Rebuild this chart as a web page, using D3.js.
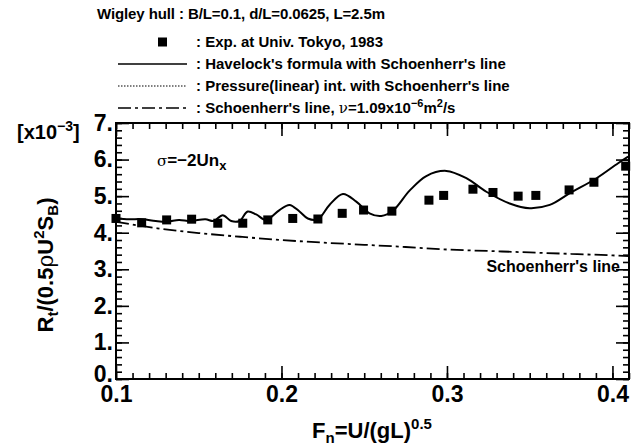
<!DOCTYPE html>
<html>
<head>
<meta charset="utf-8">
<script src="https://cdn.jsdelivr.net/npm/d3@7"></script>
<style>
  html, body { margin: 0; padding: 0; background: #fff; }
  svg { display: block; font-family: "Liberation Sans", Arial, sans-serif; }
  text { fill: #000; }
</style>
</head>
<body>
<svg id="chart" width="641" height="447"></svg>
<script>
// Measured total resistance, Wigley hull (Univ. Tokyo, 1983)
const expFn = [0.100, 0.1155, 0.1306, 0.1457, 0.1615, 0.1766, 0.1917, 0.2068, 0.222, 0.2367, 0.2496,
               0.2667, 0.2891, 0.298, 0.3157, 0.3278, 0.343, 0.3537, 0.3738, 0.3888, 0.408];
const expCt = [4.39, 4.27, 4.35, 4.37, 4.26, 4.26, 4.35, 4.39, 4.375, 4.53, 4.62,
               4.59, 4.89, 5.02, 5.19, 5.10, 5.00, 5.02, 5.17, 5.38, 5.82];

// Havelock wave resistance + Schoenherr friction
const havFn = [0.100, 0.108, 0.116, 0.124, 0.131, 0.138, 0.145, 0.154, 0.159, 0.1645, 0.1696, 0.1746,
               0.1796, 0.1847, 0.1907, 0.1988, 0.2048, 0.2109, 0.2159, 0.222, 0.229, 0.2371, 0.2452,
               0.2532, 0.2603, 0.2673, 0.2774, 0.2875, 0.2996, 0.3117, 0.3238, 0.3379, 0.350, 0.3621,
               0.3742, 0.3904, 0.4034, 0.4095];
const havCt = [4.39, 4.37, 4.37, 4.32, 4.30, 4.35, 4.32, 4.37, 4.32, 4.48, 4.32, 4.32,
               4.58, 4.50, 4.35, 4.62, 4.76, 4.58, 4.39, 4.37, 4.76, 5.06, 4.85,
               4.53, 4.46, 4.60, 5.15, 5.55, 5.69, 5.49, 5.12, 4.80, 4.67, 4.76,
               5.08, 5.49, 5.90, 6.08];

// Schoenherr friction line, nu = 1.09e-6 m^2/s
const schFn = [0.100, 0.125, 0.150, 0.175, 0.200, 0.225, 0.250, 0.275, 0.300, 0.325, 0.350, 0.375, 0.400, 0.410];
const schCt = [4.30, 4.12, 3.99, 3.89, 3.80, 3.73, 3.67, 3.61, 3.54, 3.50, 3.46, 3.42, 3.38, 3.36];

const xMajorTicks = [0.1, 0.2, 0.3, 0.4];
const yMajorTicks = [0, 1, 2, 3, 4, 5, 6, 7];

const svg = d3.select("#chart");
const frame = { left: 116, right: 629, top: 123, bottom: 379 };

const x = d3.scaleLinear().domain([0.1, 0.41]).range([frame.left, frame.right]);
const y = d3.scaleLinear().domain([0, 7]).range([frame.bottom, frame.top]);

const xMinor = d3.range(0.1, 0.4101, 0.01).map(v => +v.toFixed(2));
const yMinor = d3.range(0, 7.001, 0.2).map(v => +v.toFixed(1));

function styleAxis(g) {
  g.select(".domain").remove();
  g.selectAll(".tick line").attr("stroke", "#000").attr("stroke-width", 1.6);
}
function styleLabels(g) {
  g.selectAll("text").attr("font-size", 23).attr("font-weight", "bold")
    .attr("font-family", "'Liberation Sans', Arial, sans-serif").attr("fill", "#000");
}

// bottom axis
svg.append("g").attr("transform", `translate(0,${frame.bottom})`)
  .call(d3.axisBottom(x).tickValues(xMinor).tickSize(-6).tickFormat(""))
  .call(styleAxis);
svg.append("g").attr("transform", `translate(0,${frame.bottom})`)
  .call(d3.axisBottom(x).tickValues(xMajorTicks).tickSize(-13).tickPadding(7).tickFormat(d3.format(".1f")))
  .call(styleAxis).call(styleLabels);
// top axis
svg.append("g").attr("transform", `translate(0,${frame.top})`)
  .call(d3.axisTop(x).tickValues(xMinor).tickSize(-6).tickFormat(""))
  .call(styleAxis);
svg.append("g").attr("transform", `translate(0,${frame.top})`)
  .call(d3.axisTop(x).tickValues(xMajorTicks).tickSize(-13).tickFormat(""))
  .call(styleAxis);
// left axis
svg.append("g").attr("transform", `translate(${frame.left},0)`)
  .call(d3.axisLeft(y).tickValues(yMinor).tickSize(-6).tickFormat(""))
  .call(styleAxis);
svg.append("g").attr("transform", `translate(${frame.left},0)`)
  .call(d3.axisLeft(y).tickValues(yMajorTicks).tickSize(-13).tickPadding(3).tickFormat(d => d + "."))
  .call(styleAxis).call(styleLabels)
  .call(g => g.selectAll("text").attr("dy", d => d === 0 ? "0.1em" : "0.32em"));
// right axis
svg.append("g").attr("transform", `translate(${frame.right},0)`)
  .call(d3.axisRight(y).tickValues(yMinor).tickSize(-6).tickFormat(""))
  .call(styleAxis);
svg.append("g").attr("transform", `translate(${frame.right},0)`)
  .call(d3.axisRight(y).tickValues(yMajorTicks).tickSize(-13).tickFormat(""))
  .call(styleAxis);

// frame
svg.append("rect").attr("x", frame.left).attr("y", frame.top)
  .attr("width", frame.right - frame.left).attr("height", frame.bottom - frame.top)
  .attr("fill", "none").attr("stroke", "#000").attr("stroke-width", 2);

const plot = svg.append("g");

// Schoenherr friction line (dash-dot)
const schLine = d3.line().x(d => x(d[0])).y(d => y(d[1])).curve(d3.curveMonotoneX);
plot.append("path").datum(schFn.map((f, i) => [f, schCt[i]]))
  .attr("d", schLine).attr("fill", "none").attr("stroke", "#000").attr("stroke-width", 1.8)
  .attr("stroke-dasharray", "13,4,3,4");

// Havelock curve (solid)
const havLine = d3.line().x(d => x(d[0])).y(d => y(d[1])).curve(d3.curveCatmullRom.alpha(0.5));
plot.append("path").datum(havFn.map((f, i) => [f, havCt[i]]))
  .attr("d", havLine).attr("fill", "none").attr("stroke", "#000").attr("stroke-width", 2);

// experimental points
const sq = 9;
plot.selectAll("rect.exp").data(expFn.map((f, i) => [f, expCt[i]])).join("rect")
  .attr("class", "exp")
  .attr("x", d => x(d[0]) - sq / 2).attr("y", d => y(d[1]) - sq / 2)
  .attr("width", sq).attr("height", sq).attr("fill", "#000");

// in-plot labels
svg.append("text").attr("x", 620).attr("y", 272).attr("text-anchor", "end")
  .attr("font-size", 16).attr("font-weight", "bold").text("Schoenherr's line");

const sig = svg.append("text").attr("x", 157).attr("y", 166).attr("font-size", 17).attr("font-weight", "bold");
sig.append("tspan").attr("font-weight", "normal").attr("font-family", "'DejaVu Serif', serif").attr("font-size", 15).text("σ");
sig.append("tspan").text("=\u22122Un");
sig.append("tspan").attr("font-size", 13).attr("dy", 4).text("x");

// title and legend
svg.append("text").attr("x", 97).attr("y", 19).attr("font-size", 15).attr("font-weight", "bold")
  .attr("textLength", 288).attr("lengthAdjust", "spacing")
  .text("Wigley hull : B/L=0.1, d/L=0.0625, L=2.5m");

const legendRows = [
  { label: ": Exp. at Univ. Tokyo, 1983", kind: "square" },
  { label: ": Havelock's formula with Schoenherr's line", kind: "solid" },
  { label: ": Pressure(linear) int. with Schoenherr's line", kind: "dotted" },
  { label: ": Schoenherr's line, ", kind: "dashdot" }
];
const legY = [47, 69, 91, 113];
const lx0 = 118, lx1 = 187, ltx = 196;
legendRows.forEach((r, i) => {
  const cy = legY[i] - 5;
  if (r.kind === "square") {
    svg.append("rect").attr("x", (lx0 + lx1) / 2 + 10 - sq / 2).attr("y", cy - sq / 2)
      .attr("width", sq).attr("height", sq).attr("fill", "#000");
  } else {
    const ln = svg.append("line").attr("x1", lx0).attr("x2", lx1).attr("y1", cy).attr("y2", cy)
      .attr("stroke", "#000");
    if (r.kind === "solid") ln.attr("stroke-width", 1.6);
    if (r.kind === "dotted") ln.attr("stroke-width", 1.2).attr("stroke-dasharray", "1.5,1.5");
    if (r.kind === "dashdot") ln.attr("stroke-width", 1.6).attr("stroke-dasharray", "13,4,3,4");
  }
  const t = svg.append("text").attr("x", ltx).attr("y", legY[i]).attr("font-size", 15).attr("font-weight", "bold");
  t.append("tspan").text(r.label);
  if (r.kind === "dashdot") {
    t.append("tspan").attr("font-weight", "normal").attr("font-family", "'DejaVu Serif', serif").text("ν");
    t.append("tspan").text("=1.09x10");
    t.append("tspan").attr("font-size", 11).attr("dy", -6).text("\u22126");
    t.append("tspan").attr("dy", 6).text("m");
    t.append("tspan").attr("font-size", 11).attr("dy", -6).text("2");
    t.append("tspan").attr("dy", 6).text("/s");
  }
});

// y-axis multiplier
const mult = svg.append("text").attr("x", 17).attr("y", 139).attr("font-size", 20).attr("font-weight", "bold");
mult.append("tspan").text("[x10");
mult.append("tspan").attr("font-size", 14).attr("dy", -8).text("\u22123");
mult.append("tspan").attr("dy", 8).text("]");

// x-axis title
const xt = svg.append("text").attr("x", 372).attr("y", 438).attr("text-anchor", "middle")
  .attr("font-size", 22).attr("font-weight", "bold");
xt.append("tspan").text("F");
xt.append("tspan").attr("font-size", 15).attr("dy", 5).text("n");
xt.append("tspan").attr("dy", -5).text("=U/(gL)");
xt.append("tspan").attr("font-size", 15).attr("dy", -9).text("0.5");

// y-axis title
const yt = svg.append("text").attr("transform", "translate(53,265) rotate(-90)")
  .attr("text-anchor", "middle").attr("font-size", 22).attr("font-weight", "bold");
yt.append("tspan").text("R");
yt.append("tspan").attr("font-size", 15).attr("dy", 5).text("t");
yt.append("tspan").attr("dy", -5).text("/(0.5");
yt.append("tspan").attr("font-weight", "normal").attr("font-family", "'DejaVu Serif', serif").text("ρ");
yt.append("tspan").text("U");
yt.append("tspan").attr("font-size", 15).attr("dy", -9).text("2");
yt.append("tspan").attr("dy", 9).text("S");
yt.append("tspan").attr("font-size", 15).attr("dy", 5).text("B");
yt.append("tspan").attr("dy", -5).text(")");
</script>
</body>
</html>
